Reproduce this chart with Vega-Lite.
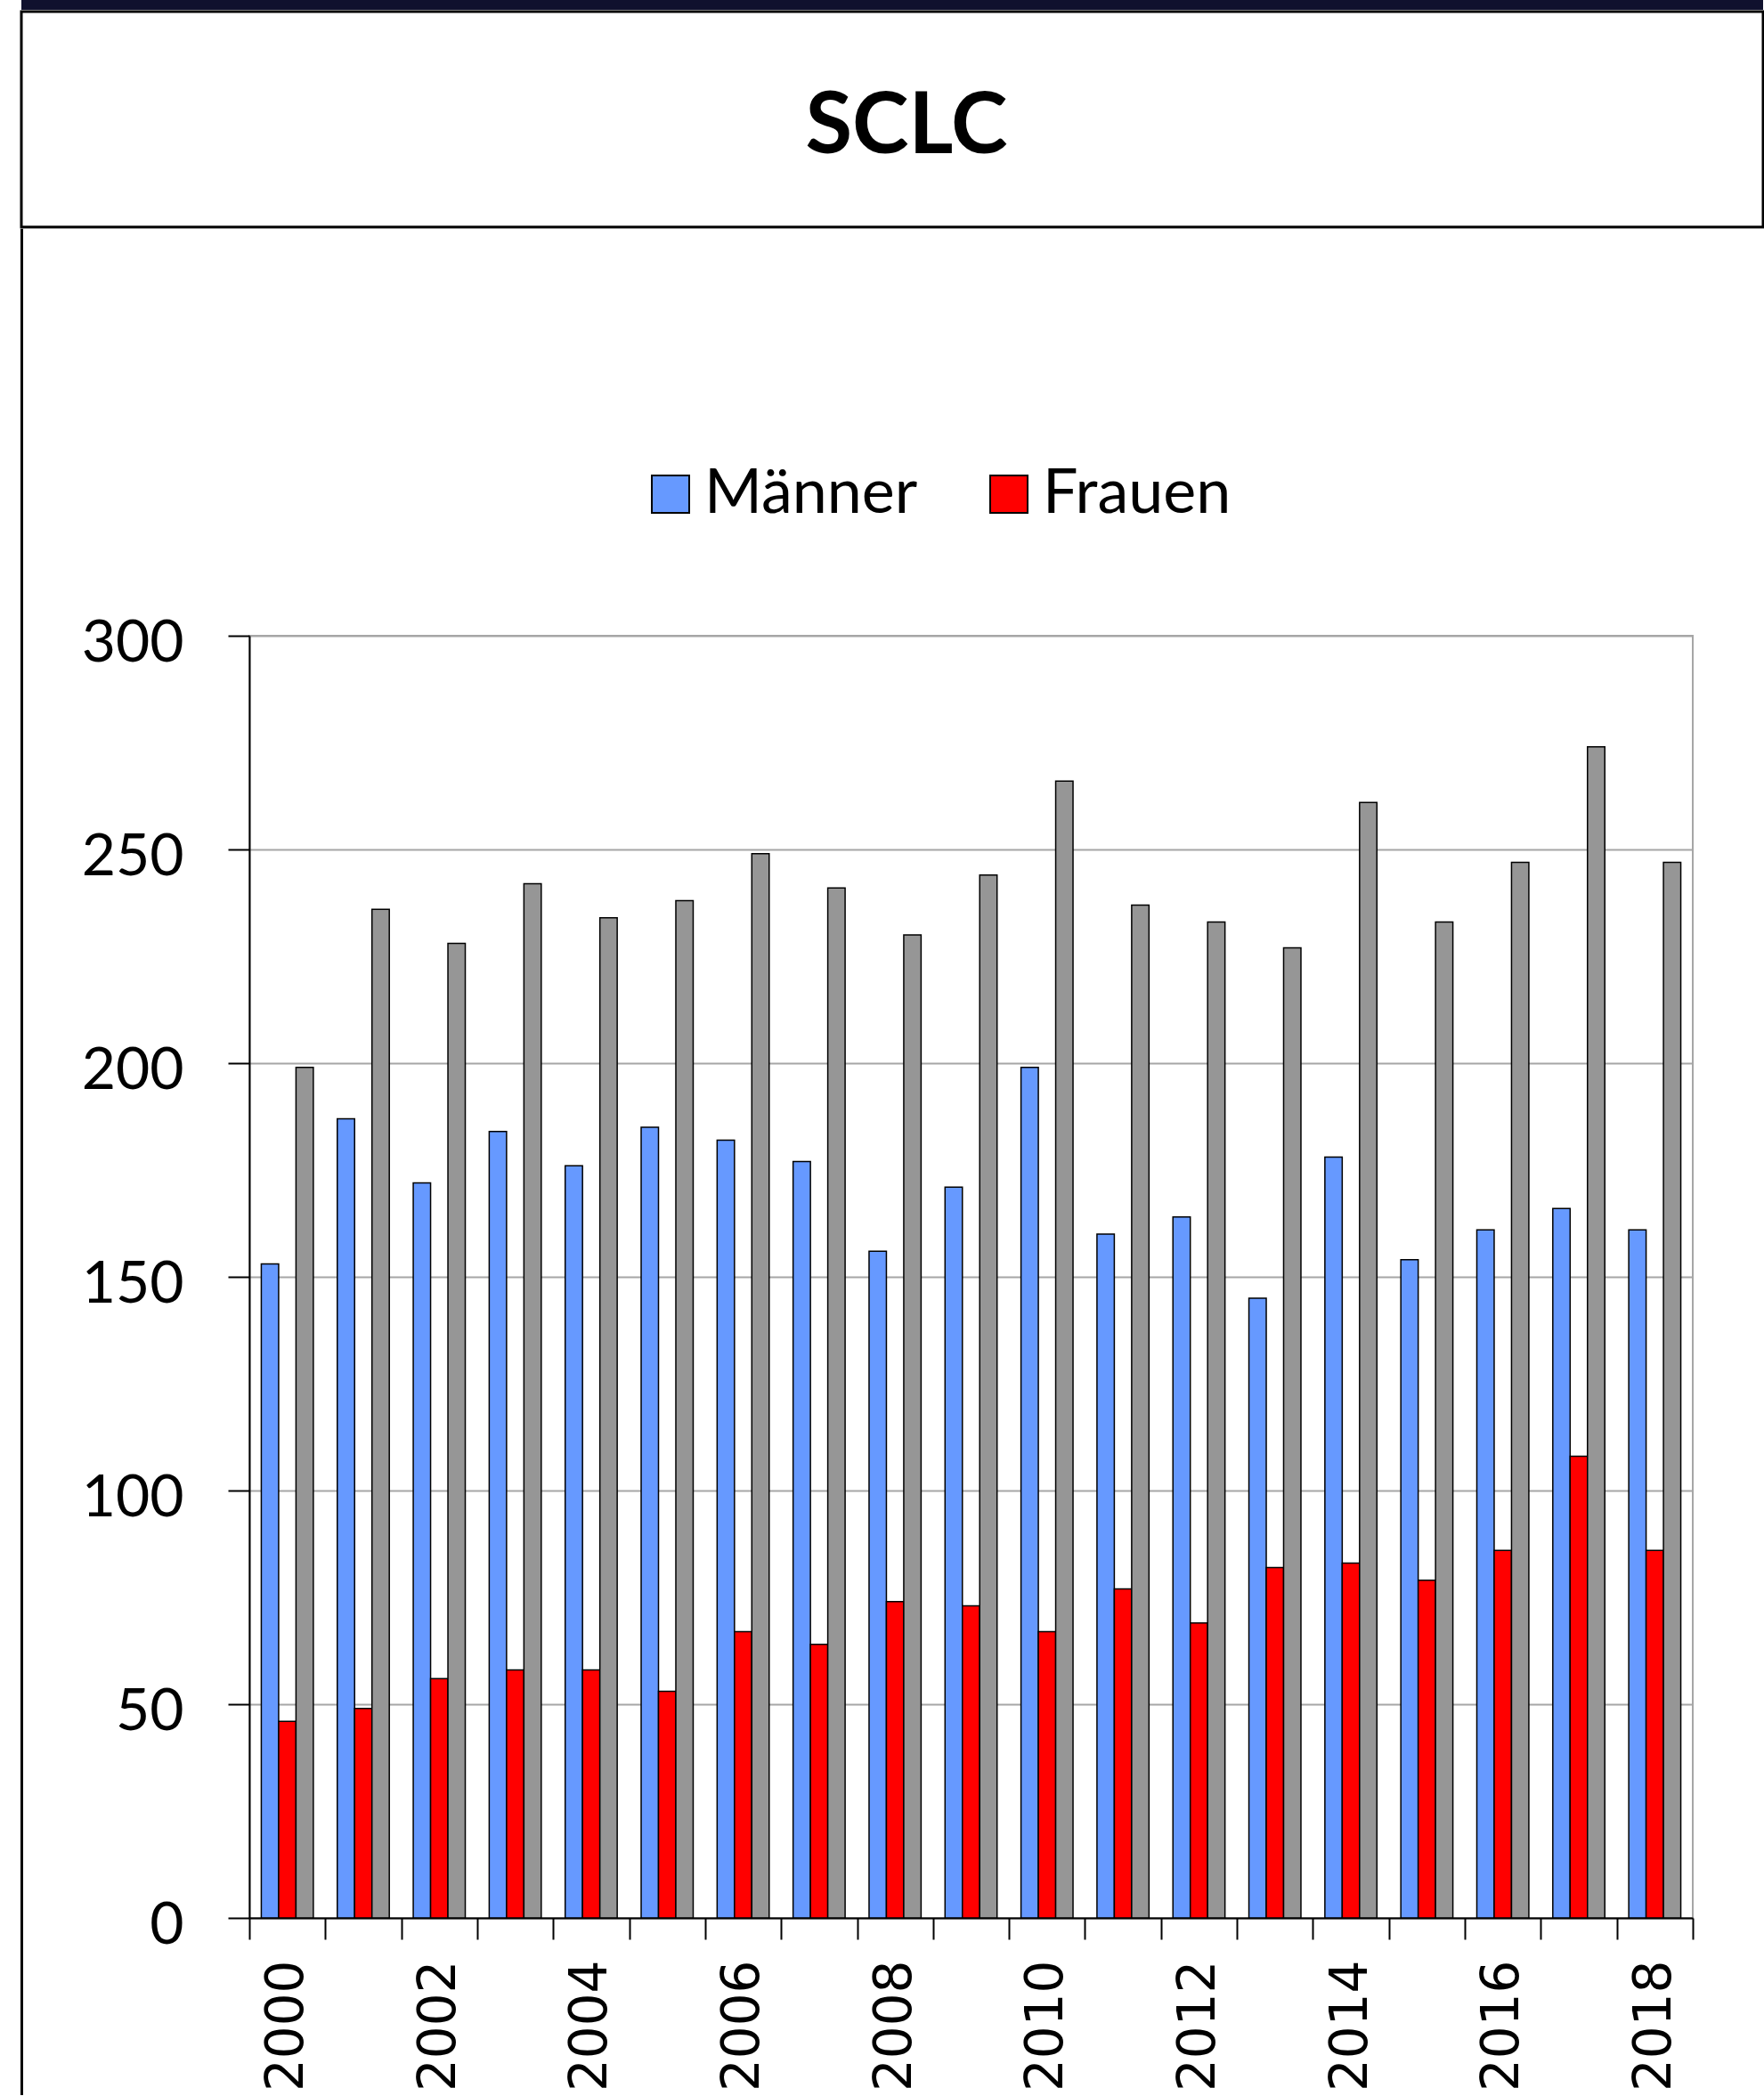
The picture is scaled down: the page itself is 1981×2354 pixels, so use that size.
{
  "$schema": "https://vega.github.io/schema/vega-lite/v6.json",
  "background": "white",
  "padding": {"left": 22, "top": 0, "right": 0, "bottom": 0},
  "columns": 1,
  "align": "none",
  "spacing": -25,
  "concat": [
    {
      "spacing": 0,
      "vconcat": [
        {
          "width": 1956,
          "height": 11,
          "view": {"fill": "#10112e", "stroke": null},
          "data": {"values": []},
          "mark": "point"
        },
        {
          "width": 1956,
          "height": 242,
          "view": {"fill": "white", "stroke": "#000000", "strokeWidth": 3},
          "data": {"values": [{"label": "SCLC"}]},
          "mark": {"type": "text", "font": "Lato", "fontSize": 96, "fontWeight": "bold", "color": "#000000", "dy": 9, "dx": 16},
          "encoding": {"text": {"field": "label", "type": "nominal"}}
        },
        {
          "width": 1,
          "height": 454,
          "view": {"fill": "#000000", "stroke": "#000000", "strokeWidth": 2},
          "data": {"values": []},
          "mark": "point"
        }
      ]
    },
    {
      "spacing": 0,
      "hconcat": [
        {
          "width": 1,
          "height": 1638,
          "view": {"fill": "#000000", "stroke": "#000000", "strokeWidth": 2},
          "data": {"values": []},
          "mark": "point"
        },
        {
          "width": 1621,
          "height": 1440,
          "view": {"stroke": "#a6a6a6", "strokeWidth": 2},
          "data": {
            "values": [
              {"year": 2000, "series": "Männer", "value": 153}, {"year": 2000, "series": "Frauen", "value": 46}, {"year": 2000, "series": "Gesamt", "value": 199},
              {"year": 2001, "series": "Männer", "value": 187}, {"year": 2001, "series": "Frauen", "value": 49}, {"year": 2001, "series": "Gesamt", "value": 236},
              {"year": 2002, "series": "Männer", "value": 172}, {"year": 2002, "series": "Frauen", "value": 56}, {"year": 2002, "series": "Gesamt", "value": 228},
              {"year": 2003, "series": "Männer", "value": 184}, {"year": 2003, "series": "Frauen", "value": 58}, {"year": 2003, "series": "Gesamt", "value": 242},
              {"year": 2004, "series": "Männer", "value": 176}, {"year": 2004, "series": "Frauen", "value": 58}, {"year": 2004, "series": "Gesamt", "value": 234},
              {"year": 2005, "series": "Männer", "value": 185}, {"year": 2005, "series": "Frauen", "value": 53}, {"year": 2005, "series": "Gesamt", "value": 238},
              {"year": 2006, "series": "Männer", "value": 182}, {"year": 2006, "series": "Frauen", "value": 67}, {"year": 2006, "series": "Gesamt", "value": 249},
              {"year": 2007, "series": "Männer", "value": 177}, {"year": 2007, "series": "Frauen", "value": 64}, {"year": 2007, "series": "Gesamt", "value": 241},
              {"year": 2008, "series": "Männer", "value": 156}, {"year": 2008, "series": "Frauen", "value": 74}, {"year": 2008, "series": "Gesamt", "value": 230},
              {"year": 2009, "series": "Männer", "value": 171}, {"year": 2009, "series": "Frauen", "value": 73}, {"year": 2009, "series": "Gesamt", "value": 244},
              {"year": 2010, "series": "Männer", "value": 199}, {"year": 2010, "series": "Frauen", "value": 67}, {"year": 2010, "series": "Gesamt", "value": 266},
              {"year": 2011, "series": "Männer", "value": 160}, {"year": 2011, "series": "Frauen", "value": 77}, {"year": 2011, "series": "Gesamt", "value": 237},
              {"year": 2012, "series": "Männer", "value": 164}, {"year": 2012, "series": "Frauen", "value": 69}, {"year": 2012, "series": "Gesamt", "value": 233},
              {"year": 2013, "series": "Männer", "value": 145}, {"year": 2013, "series": "Frauen", "value": 82}, {"year": 2013, "series": "Gesamt", "value": 227},
              {"year": 2014, "series": "Männer", "value": 178}, {"year": 2014, "series": "Frauen", "value": 83}, {"year": 2014, "series": "Gesamt", "value": 261},
              {"year": 2015, "series": "Männer", "value": 154}, {"year": 2015, "series": "Frauen", "value": 79}, {"year": 2015, "series": "Gesamt", "value": 233},
              {"year": 2016, "series": "Männer", "value": 161}, {"year": 2016, "series": "Frauen", "value": 86}, {"year": 2016, "series": "Gesamt", "value": 247},
              {"year": 2017, "series": "Männer", "value": 166}, {"year": 2017, "series": "Frauen", "value": 108}, {"year": 2017, "series": "Gesamt", "value": 274},
              {"year": 2018, "series": "Männer", "value": 161}, {"year": 2018, "series": "Frauen", "value": 86}, {"year": 2018, "series": "Gesamt", "value": 247}
            ]
          },
          "mark": {"type": "bar", "stroke": "#000000", "strokeWidth": 1.5},
          "encoding": {
            "x": {
              "field": "year",
              "type": "ordinal",
              "scale": {"paddingInner": 0, "paddingOuter": 0},
              "axis": {
                "title": null,
                "labelAngle": -90,
                "labelFont": "DejaVu Sans",
                "labelFontSize": 58,
                "labelColor": "#000000",
                "labelExpr": "datum.value % 2 == 0 ? datum.label : ''",
                "labelOverlap": false,
                "tickBand": "extent",
                "tickSize": 24,
                "tickColor": "#000000",
                "tickWidth": 2,
                "domainColor": "#000000",
                "domainWidth": 2,
                "labelPadding": 23,
                "grid": false
              }
            },
            "xOffset": {
              "field": "series",
              "type": "nominal",
              "sort": ["Männer", "Frauen", "Gesamt"],
              "scale": {"paddingInner": 0, "paddingOuter": 0.69}
            },
            "y": {
              "field": "value",
              "type": "quantitative",
              "scale": {"domain": [0, 300], "nice": false},
              "axis": {
                "title": null,
                "values": [0, 50, 100, 150, 200, 250, 300],
                "labelFont": "Lato",
                "labelFontSize": 66,
                "labelColor": "#000000",
                "labelPadding": 50,
                "labelOffset": 8,
                "tickSize": 24,
                "tickColor": "#000000",
                "tickWidth": 2,
                "domainColor": "#000000",
                "domainWidth": 2,
                "gridColor": "#a6a6a6",
                "gridWidth": 2,
                "minExtent": 253
              }
            },
            "color": {
              "field": "series",
              "type": "nominal",
              "scale": {"domain": ["Männer", "Frauen", "Gesamt"], "range": ["#6699ff", "#ff0000", "#969696"]},
              "legend": {
                "orient": "none",
                "legendX": 694,
                "legendY": 520,
                "direction": "horizontal",
                "title": null,
                "values": ["Männer", "Frauen"],
                "symbolType": "square",
                "symbolSize": 1764,
                "symbolStrokeColor": "#000000",
                "symbolStrokeWidth": 2,
                "symbolOpacity": 1,
                "labelFont": "Lato",
                "labelFontSize": 70,
                "labelColor": "#000000",
                "labelOffset": 3,
                "labelLimit": 500,
                "columnPadding": 67
              }
            }
          }
        }
      ]
    }
  ]
}
